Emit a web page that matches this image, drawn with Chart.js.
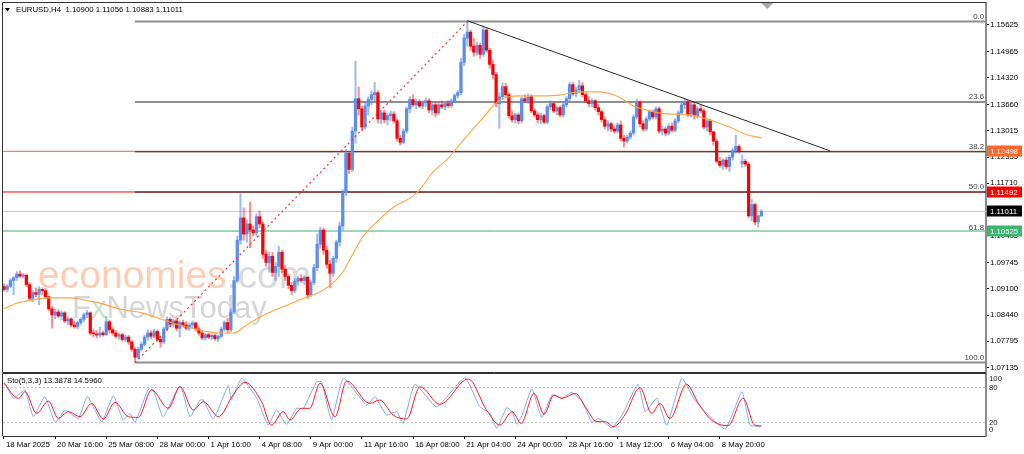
<!DOCTYPE html>
<html>
<head>
<meta charset="utf-8">
<script src="https://cdn.jsdelivr.net/npm/chart.js@4.4.1/dist/chart.umd.min.js"></script>
<style>
  html, body { margin: 0; padding: 0; background: #fff; }
  #wrap { position: relative; width: 1024px; height: 454px; overflow: hidden; }
  #main { position: absolute; left: 0; top: 0; }
  #sto { position: absolute; left: 0; top: 373px; }
</style>
</head>
<body>
<div id="wrap">
  <canvas id="main" width="1024" height="373"></canvas>
  <canvas id="sto" width="1024" height="81"></canvas>
</div>
<script>
/* ---------------- data (EURUSD H4) ---------------- */

const symbol = 'EURUSD,H4';

const opens = [
  1.0915,1.0908,1.0916,1.0930,1.0937,1.0946,1.0941,1.0943,1.0920,1.0886,
  1.0900,1.0896,1.0908,1.0905,1.0890,1.0860,1.0845,1.0852,1.0842,1.0850,
  1.0830,1.0835,1.0820,1.0816,1.0826,1.0834,1.0845,1.0850,1.0800,1.0798,
  1.0795,1.0800,1.0796,1.0828,1.0808,1.0800,1.0792,1.0796,1.0784,1.0790,
  1.0778,1.0760,1.0740,1.0760,1.0772,1.0790,1.0800,1.0792,1.0804,1.0784,
  1.0778,1.0810,1.0834,1.0822,1.0830,1.0812,1.0826,1.0820,1.0812,1.0820,
  1.0825,1.0810,1.0800,1.0788,1.0796,1.0790,1.0794,1.0786,1.0792,1.0810,
  1.0826,1.0808,1.0852,1.0930,1.1030,1.1085,1.1045,1.1070,1.1055,1.1048,
  1.1088,1.1070,1.0995,1.0975,1.0990,1.0950,1.0965,1.1000,1.0958,1.0940,
  1.0918,1.0905,1.0928,1.0935,1.0930,1.0938,1.0895,1.0925,1.0962,1.1020,
  1.1055,1.1005,1.0970,1.0948,1.0985,1.1025,1.1065,1.1148,1.1245,1.1205,
  1.1300,1.1380,1.1355,1.1310,1.1362,1.1378,1.1390,1.1395,1.1330,1.1345,
  1.1328,1.1338,1.1342,1.1325,1.1282,1.1272,1.1300,1.1355,1.1378,1.1365,
  1.1372,1.1362,1.1370,1.1375,1.1352,1.1365,1.1345,1.1365,1.1360,1.1368,
  1.1363,1.1375,1.1388,1.1395,1.1470,1.1530,1.1545,1.1510,1.1495,1.1512,
  1.1490,1.1550,1.1500,1.1465,1.1440,1.1368,1.1385,1.1410,1.1390,1.1338,
  1.1328,1.1340,1.1325,1.1380,1.1375,1.1385,1.1350,1.1340,1.1328,1.1338,
  1.1322,1.1360,1.1368,1.1350,1.1358,1.1340,1.1365,1.1380,1.1415,1.1392,
  1.1402,1.1412,1.1390,1.1375,1.1368,1.1375,1.1358,1.1348,1.1328,1.1312,
  1.1318,1.1305,1.1300,1.1315,1.1282,1.1275,1.1285,1.1295,1.1335,1.1372,
  1.1318,1.1305,1.1330,1.1348,1.1335,1.1355,1.1300,1.1305,1.1295,1.1312,
  1.1302,1.1325,1.1345,1.1365,1.1372,1.1340,1.1365,1.1338,1.1355,1.1350,
  1.1310,1.1325,1.1298,1.1275,1.1225,1.1215,1.1228,1.1212,1.1235,1.1252,
  1.1262,1.1220,1.1225,1.1218,1.1090,1.1118,1.1075,1.10900
];
const highs = [
  1.0922,1.0920,1.0935,1.0940,1.0952,1.0954,1.0948,1.0946,1.0925,1.0905,
  1.0912,1.0915,1.0912,1.0910,1.0893,1.0866,1.0860,1.0858,1.0855,1.0853,
  1.0840,1.0838,1.0828,1.0830,1.0838,1.0850,1.0856,1.0852,1.0808,1.0806,
  1.0815,1.0805,1.0842,1.0832,1.0815,1.0806,1.0800,1.0800,1.0795,1.0794,
  1.0782,1.0764,1.0765,1.0778,1.0795,1.0808,1.0806,1.0810,1.0808,1.0790,
  1.0815,1.0840,1.0838,1.0835,1.0836,1.0830,1.0832,1.0828,1.0825,1.0830,
  1.0828,1.0815,1.0806,1.0800,1.0800,1.0798,1.0798,1.0795,1.0815,1.0830,
  1.0836,1.0860,1.0940,1.1040,1.1145,1.1110,1.1080,1.1124,1.1065,1.1095,
  1.1102,1.1075,1.1005,1.1000,1.1000,1.0975,1.1015,1.1005,1.0968,1.0945,
  1.0925,1.0935,1.0940,1.0945,1.0942,1.0940,1.0930,1.0970,1.1045,1.1062,
  1.1060,1.1015,1.0980,1.0990,1.1030,1.1075,1.1155,1.1255,1.1250,1.1310,
  1.1473,1.1409,1.1362,1.1370,1.1385,1.1400,1.1421,1.1400,1.1350,1.1352,
  1.1345,1.1350,1.1348,1.1330,1.1290,1.1305,1.1360,1.1385,1.1390,1.1380,
  1.1378,1.1375,1.1382,1.1380,1.1372,1.1370,1.1370,1.1375,1.1372,1.1375,
  1.1380,1.1392,1.1400,1.1480,1.1540,1.1573,1.1550,1.1530,1.1520,1.1518,
  1.1560,1.1555,1.1505,1.1475,1.1445,1.1395,1.1420,1.1418,1.1395,1.1350,
  1.1345,1.1345,1.1385,1.1390,1.1392,1.1390,1.1355,1.1348,1.1345,1.1342,
  1.1365,1.1375,1.1372,1.1362,1.1362,1.1370,1.1385,1.1421,1.1420,1.1408,
  1.1425,1.1420,1.1395,1.1385,1.1380,1.1378,1.1365,1.1352,1.1335,1.1325,
  1.1322,1.1312,1.1320,1.1325,1.1290,1.1290,1.1300,1.1340,1.1378,1.1375,
  1.1325,1.1335,1.1352,1.1352,1.1360,1.1360,1.1312,1.1310,1.1318,1.1320,
  1.1330,1.1350,1.1370,1.1378,1.1377,1.1370,1.1372,1.1360,1.1365,1.1355,
  1.1330,1.1330,1.1300,1.1280,1.1235,1.1232,1.1235,1.1240,1.1258,1.1290,
  1.1266,1.1241,1.1230,1.1222,1.1130,1.1122,1.1092,1.11056
];
const lows = [
  1.0904,1.0902,1.0912,1.0895,1.0930,1.0938,1.0936,1.0915,1.0880,1.0878,
  1.0890,1.0870,1.0895,1.0885,1.0855,1.0812,1.0835,1.0838,1.0832,1.0825,
  1.0820,1.0815,1.0812,1.0810,1.0820,1.0828,1.0838,1.0795,1.0790,1.0788,
  1.0790,1.0792,1.0794,1.0800,1.0795,1.0788,1.0785,1.0780,1.0778,1.0772,
  1.0755,1.0728,1.0736,1.0755,1.0768,1.0782,1.0786,1.0788,1.0780,1.0765,
  1.0774,1.0805,1.0815,1.0815,1.0805,1.0790,1.0815,1.0808,1.0806,1.0812,
  1.0805,1.0795,1.0783,1.0782,1.0785,1.0784,1.0782,1.0779,1.0788,1.0805,
  1.0800,1.0804,1.0848,1.0925,1.1020,1.1030,1.1025,1.1011,1.1040,1.1040,
  1.1060,1.0985,1.0965,1.0950,1.0940,1.0930,1.0940,1.0950,1.0930,1.0910,
  1.0895,1.0900,1.0918,1.0925,1.0920,1.0885,1.0890,1.0920,1.0955,1.1010,
  1.0995,1.0960,1.0912,1.0940,1.0975,1.1015,1.1055,1.1140,1.1195,1.1200,
  1.1270,1.1340,1.1300,1.1305,1.1340,1.1365,1.1375,1.1320,1.1318,1.1320,
  1.1315,1.1325,1.1320,1.1275,1.1265,1.1268,1.1295,1.1345,1.1360,1.1355,
  1.1358,1.1355,1.1360,1.1345,1.1340,1.1335,1.1340,1.1355,1.1352,1.1358,
  1.1358,1.1370,1.1382,1.1390,1.1462,1.1510,1.1500,1.1485,1.1488,1.1480,
  1.1485,1.1495,1.1455,1.1430,1.1360,1.1307,1.1378,1.1385,1.1332,1.1322,
  1.1320,1.1318,1.1320,1.1370,1.1368,1.1345,1.1335,1.1320,1.1318,1.1318,
  1.1318,1.1352,1.1345,1.1340,1.1335,1.1335,1.1360,1.1375,1.1388,1.1385,
  1.1395,1.1385,1.1370,1.1360,1.1360,1.1352,1.1340,1.1322,1.1305,1.1300,
  1.1298,1.1295,1.1296,1.1275,1.1260,1.1270,1.1280,1.1290,1.1330,1.1310,
  1.1300,1.1300,1.1325,1.1330,1.1330,1.1295,1.1290,1.1288,1.1290,1.1298,
  1.1298,1.1320,1.1340,1.1355,1.1335,1.1335,1.1330,1.1332,1.1345,1.1305,
  1.1300,1.1290,1.1265,1.1220,1.1210,1.1205,1.1206,1.1200,1.1228,1.1245,
  1.1245,1.1210,1.1212,1.1085,1.1078,1.1068,1.1062,1.10883
];
const closes = [
  1.0908,1.0916,1.0930,1.0937,1.0946,1.0941,1.0943,1.0920,1.0886,1.0900,
  1.0896,1.0908,1.0905,1.0890,1.0860,1.0845,1.0852,1.0842,1.0850,1.0830,
  1.0835,1.0820,1.0816,1.0826,1.0834,1.0845,1.0850,1.0800,1.0798,1.0795,
  1.0800,1.0796,1.0828,1.0808,1.0800,1.0792,1.0796,1.0784,1.0790,1.0778,
  1.0760,1.0740,1.0760,1.0772,1.0790,1.0800,1.0792,1.0804,1.0784,1.0778,
  1.0810,1.0834,1.0822,1.0830,1.0812,1.0826,1.0820,1.0812,1.0820,1.0825,
  1.0810,1.0800,1.0788,1.0796,1.0790,1.0794,1.0786,1.0792,1.0810,1.0826,
  1.0808,1.0852,1.0930,1.1030,1.1085,1.1045,1.1070,1.1055,1.1048,1.1088,
  1.1070,1.0995,1.0975,1.0990,1.0950,1.0965,1.1000,1.0958,1.0940,1.0918,
  1.0905,1.0928,1.0935,1.0930,1.0938,1.0895,1.0925,1.0962,1.1020,1.1055,
  1.1005,1.0970,1.0948,1.0985,1.1025,1.1065,1.1148,1.1245,1.1205,1.1300,
  1.1380,1.1355,1.1310,1.1362,1.1378,1.1390,1.1395,1.1330,1.1345,1.1328,
  1.1338,1.1342,1.1325,1.1282,1.1272,1.1300,1.1355,1.1378,1.1365,1.1372,
  1.1362,1.1370,1.1375,1.1352,1.1365,1.1345,1.1365,1.1360,1.1368,1.1363,
  1.1375,1.1388,1.1395,1.1470,1.1530,1.1545,1.1510,1.1495,1.1512,1.1490,
  1.1550,1.1500,1.1465,1.1440,1.1368,1.1385,1.1410,1.1390,1.1338,1.1328,
  1.1340,1.1325,1.1380,1.1375,1.1385,1.1350,1.1340,1.1328,1.1338,1.1322,
  1.1360,1.1368,1.1350,1.1358,1.1340,1.1365,1.1380,1.1415,1.1392,1.1402,
  1.1412,1.1390,1.1375,1.1368,1.1375,1.1358,1.1348,1.1328,1.1312,1.1318,
  1.1305,1.1300,1.1315,1.1282,1.1275,1.1285,1.1295,1.1335,1.1372,1.1318,
  1.1305,1.1330,1.1348,1.1335,1.1355,1.1300,1.1305,1.1295,1.1312,1.1302,
  1.1325,1.1345,1.1365,1.1372,1.1340,1.1365,1.1338,1.1355,1.1350,1.1310,
  1.1325,1.1298,1.1275,1.1225,1.1215,1.1228,1.1212,1.1235,1.1252,1.1262,
  1.1250,1.1225,1.1218,1.1090,1.1118,1.1075,1.1090,1.11011
];

// moving average (orange), sampled along the curve: bar index -> price
const maBars = [0,4,9,14,21,25,30,36,43,49,54,59,64,69,72,75,79,90,94,99,103,106,109,112,118,122,127,130,134,139,143,147,150,153,156,161,168,174,180,186,191,194,197,201,205,209,215,219,223,228,232,237];
const maValues = [1.0860,1.0874,1.0882,1.0887,1.0887,1.0882,1.0874,1.0860,1.0850,1.0835,1.0822,1.0812,1.0803,1.0800,1.0800,1.0815,1.0835,1.0874,1.0887,1.0902,1.0924,1.0951,1.0993,1.1035,1.1085,1.1112,1.1134,1.1154,1.1196,1.1233,1.1270,1.1307,1.1333,1.1362,1.1380,1.1387,1.1387,1.1389,1.1397,1.1397,1.1389,1.1377,1.1362,1.1352,1.1345,1.1342,1.1340,1.1332,1.1322,1.1307,1.1292,1.1283];

// Stochastic(5,3,3): main line (blue) and signal (red), turning points
const kBars = [0,3,5,6.6,9.2,12.8,16,19.1,20.1,23.3,26.1,30.6,34.2,37.3,39.4,41,45.2,46.7,49.8,55.1,58.2,61.3,62.4,65.5,70.2,71.2,74.4,79.1,82.7,85.3,88.4,91.6,93.7,97.8,99.4,102.5,106.2,113.5,116.1,119.7,122.9,124.9,128.6,135.4,144.2,148.9,152.1,154.2,157.3,159,160.5,162.1,165.2,168.3,171.5,174.6,177.7,180.9,184,186.1,190.2,193.4,198.4,200.7,204.3,207.4,212.1,215.8,218.9,225.7,230.9,233.5,237];
const kValues = [90,61.7,70,76,30.3,64.6,20.6,41.7,38.9,27.4,64.6,21.7,66,24.6,36,20.6,77.7,76,30.3,83.4,30.3,58.8,58.8,26.3,83.4,58.8,96,61.7,16,41.7,17.2,44.6,44.6,90,90,24.6,96,50,64.6,33,38.9,18.9,85.7,47.4,97,47.4,36,10.3,45.7,38.9,17.2,33,77.7,28.6,67.4,61.7,72,56,20.6,27.4,11.5,33,85.7,38.9,61.7,16,96,61.7,41.7,9.2,73,16,13.3878];
const dBars = [0,4.5,6.6,10.2,13.9,17,20.1,23.8,27.4,31.1,34.7,38.9,42,46.2,51.4,55.1,59.2,62.4,67.1,71.8,75.4,80.6,83.7,87.4,89.5,93.1,95.7,98.9,103.6,107.2,114.5,117.6,121.8,126,130.2,136.4,145.3,151,155.2,159,161.8,165.9,169,172.1,174.6,178.8,181.9,185.5,188.2,190.7,194.4,199,202.7,205.3,208.4,213.6,217.3,221.4,226.6,231.3,234.9,237];
const dValues = [87.4,61.7,73,36,57,27.4,38.9,30.3,53,26.3,54.8,30.3,29,76,44.6,81.7,41.7,56,30.3,68.5,89.1,56,16,38.9,24.6,44.6,44.6,87.4,30.3,91.4,53,58.8,33,26.3,81.7,51.4,94.8,41.7,16,38.9,18.9,70,34.3,67.4,61.7,70,47.4,21.7,21.7,13.2,34.3,80,36,53,27.4,85.7,53,24.6,14.9,61.7,16,14.596];

// time axis
const timeTickBars = [0,16,32,48,64,80,96,112,128,144,160,176,192,208,224];
const timeTickLabels = ['18 Mar 2025','20 Mar 16:00','25 Mar 08:00','28 Mar 00:00','1 Apr 16:00','4 Apr 08:00','9 Apr 00:00','11 Apr 16:00','16 Apr 08:00','21 Apr 04:00','24 Apr 00:00','28 Apr 16:00','1 May 12:00','6 May 04:00','8 May 20:00'];

// price axis
const priceTicks = [1.15625,1.14965,1.14320,1.13660,1.13015,1.12355,1.11710,1.11065,1.10405,1.09745,1.09100,1.08440,1.07795,1.07135];

// fibonacci retracement (low bar -> high bar)
const fibLevels = [0, 23.6, 38.2, 50, 61.8, 100];
const fibLabels = ['0.0', '23.6', '38.2', '50.0', '61.8', '100.0'];
const fibHigh = 1.1571, fibLow = 1.0727;
const fibLowBar = 41, fibHighBar = 145;

// trend line from the top
const trendBars = [145, 258.5];
const trendPrices = [1.1573, 1.1251];

// horizontal price lines with their axis labels
const levelPrices = [1.12498, 1.11492, 1.11011, 1.10525];

// stochastic levels
const stochLevels = [100, 80, 20, 0];
const stochDotted = [80, 20];

/* ---------------- styling ---------------- */

const FONT = '"Liberation Sans", Arial, sans-serif';
Chart.defaults.font.family = FONT;
Chart.defaults.font.size = 7.8;
Chart.defaults.color = '#000';
Chart.defaults.animation = false;

const X_MIN = -0.31, X_MAX = 307.3;
const BULL = 'rgb(92,142,236)', BEAR = 'rgb(255,0,0)';
const BULL_PALE = 'rgba(92,142,236,0.6)', BEAR_PALE = 'rgba(255,30,30,0.5)';

// 61.8 is covered by the green price line, so its own line is left out
const fibColors = ['#8e8e8e', '#8e8e8e', '#1e1e1e', '#1e1e1e', 'rgba(0,0,0,0)', '#8e8e8e'];
const fibWidths = [2, 2, 1, 1, 1, 2];
const levelColors = ['rgb(255,100,40)', 'rgb(255,0,0)', '#c8c8c8', 'rgb(60,179,113)'];
const boxColors = ['rgb(255,100,40)', 'rgb(255,0,0)', '#000000', 'rgb(60,179,113)'];

const up = i => closes[i] >= opens[i];
const fibPrice = lv => fibHigh - (fibHigh - fibLow) * lv / 100;

function hLine(x0, price, color, width, order, dash) {
  return {
    type: 'line', data: [{x: x0, y: price}, {x: X_MAX, y: price}],
    borderColor: color, borderWidth: width, borderDash: dash || [],
    pointRadius: 0, fill: false, tension: 0, order: order
  };
}

// keep the axis labels from pushing the plot area in
function noLabelPadding(s) {
  s.paddingTop = 0;
  s.paddingBottom = 0;
}

/* ---------------- main chart ---------------- */

const wicks = opens.map((o, i) => ({x: i, y: [lows[i], highs[i]]}));
const bodies = opens.map((o, i) => ({x: i, y: [o, closes[i]]}));

const mainDecor = {
  id: 'mainDecor',
  beforeDatasetsDraw(chart) {
    const ctx = chart.ctx;
    ctx.save();
    ctx.textBaseline = 'alphabetic';
    ctx.font = '39px ' + FONT;
    ctx.fillStyle = 'rgba(252,190,155,0.75)';
    ctx.fillText('economies', 38, 288);
    const w = ctx.measureText('economies').width;
    ctx.fillStyle = 'rgba(205,205,205,0.75)';
    ctx.fillText('.com', 38 + w, 288);
    ctx.font = '31px ' + FONT;
    ctx.fillStyle = 'rgba(200,200,200,0.75)';
    ctx.fillText('F', 72, 318);
    const fw = ctx.measureText('F').width;
    ctx.fillStyle = 'rgba(190,220,190,0.8)';
    ctx.fillText('x', 72 + fw, 318);
    const xw = ctx.measureText('x').width;
    ctx.fillStyle = 'rgba(200,200,200,0.75)';
    ctx.fillText('NewsToday', 72 + fw + xw, 318);
    ctx.restore();
  },
  afterDraw(chart) {
    const {ctx, chartArea: a, scales} = chart;
    const y = scales.y, x = scales.x;
    ctx.save();
    // frame
    ctx.strokeStyle = '#333';
    ctx.lineWidth = 1;
    ctx.beginPath();
    ctx.moveTo(a.left - 0.5, a.bottom + 0.5);
    ctx.lineTo(a.left - 0.5, a.top - 0.5);
    ctx.lineTo(a.right, a.top - 0.5);
    ctx.moveTo(a.left - 0.5, a.bottom + 0.5);
    ctx.lineTo(a.right, a.bottom + 0.5);
    ctx.stroke();

    // fib level texts
    ctx.font = '7.8px ' + FONT;
    ctx.fillStyle = '#404040';
    ctx.textAlign = 'right';
    ctx.textBaseline = 'bottom';
    fibLevels.forEach((lv, k) => {
      ctx.fillText(fibLabels[k], a.right - 2, y.getPixelForValue(fibPrice(lv)) - 1);
    });

    // price boxes on the axis
    ctx.textAlign = 'left';
    ctx.textBaseline = 'middle';
    levelPrices.forEach((p, k) => {
      const py = Math.round(y.getPixelForValue(p));
      ctx.fillStyle = boxColors[k];
      ctx.fillRect(a.right + 1, py - 5.5, chart.width - a.right - 3, 11);
      ctx.fillStyle = '#fff';
      ctx.fillText(p.toFixed(5), a.right + 4, py + 0.5);
    });

    // title
    const last = closes.length - 1;
    ctx.fillStyle = '#000';
    ctx.beginPath();
    ctx.moveTo(5, 8); ctx.lineTo(10, 8); ctx.lineTo(7.5, 11.5); ctx.closePath();
    ctx.fill();
    ctx.fillText(symbol + '  ' + [opens[last], highs[last], lows[last], closes[last]].map(v => v.toFixed(5)).join(' '), 16, 10);

    // chart shift marker
    const sx = x.getPixelForValue(last) + 6;
    ctx.fillStyle = '#a8a8a8';
    ctx.beginPath();
    ctx.moveTo(sx - 6, a.top); ctx.lineTo(sx + 6, a.top); ctx.lineTo(sx, a.top + 6); ctx.closePath();
    ctx.fill();
    ctx.restore();
  }
};

new Chart(document.getElementById('main'), {
  type: 'bar',
  data: {
    datasets: [
      {type: 'line', data: maBars.map((b, k) => ({x: b, y: maValues[k]})), borderColor: 'rgb(255,165,65)', borderWidth: 1.1,
       pointRadius: 0, cubicInterpolationMode: 'monotone', fill: false, order: 0},
      {type: 'line', data: trendBars.map((b, k) => ({x: b, y: trendPrices[k]})), borderColor: '#2a2a2a', borderWidth: 1,
       pointRadius: 0, fill: false, order: 0},
      {type: 'line', data: [{x: fibLowBar, y: fibLow}, {x: fibHighBar, y: fibHigh}], borderColor: 'rgb(235,55,55)', borderWidth: 1.2,
       borderDash: [2, 3], pointRadius: 0, fill: false, order: 0},
      {type: 'bar', data: bodies, backgroundColor: opens.map((o, i) => up(i) ? BULL : BEAR),
       barThickness: 2.6, minBarLength: 1, grouped: false, borderWidth: 0, order: 1},
      {type: 'bar', data: wicks, backgroundColor: opens.map((o, i) => up(i) ? BULL_PALE : BEAR_PALE),
       barThickness: 1.4, grouped: false, borderWidth: 0, order: 2},
      ...fibLevels.map((lv, k) => hLine(fibLowBar, fibPrice(lv), fibColors[k], fibWidths[k], 3)),
      ...levelPrices.map((p, k) => hLine(X_MIN, p, levelColors[k], 1, 4))
    ]
  },
  options: {
    responsive: false,
    devicePixelRatio: 1,
    layout: {padding: {left: 3, top: 3, right: 0, bottom: 1}},
    plugins: {legend: {display: false}, tooltip: {enabled: false}},
    scales: {
      x: {type: 'linear', min: X_MIN, max: X_MAX, offset: false, display: false, grid: {offset: false}},
      y: {
        type: 'linear', position: 'right', min: 1.070358, max: 1.161695,
        afterBuildTicks: s => { s.ticks = priceTicks.map(v => ({value: v})); },
        afterFit: s => { s.width = 38; noLabelPadding(s); },
        ticks: {padding: 1, font: {size: 7.8}, color: '#000', callback: v => v.toFixed(5)},
        grid: {drawOnChartArea: false, drawTicks: true, tickLength: 3, tickColor: '#000'},
        border: {display: true, color: '#8c8c8c', width: 2}
      }
    }
  },
  plugins: [mainDecor]
});

/* ---------------- stochastic sub-window ---------------- */

const stoDecor = {
  id: 'stoDecor',
  afterDraw(chart) {
    const {ctx, chartArea: a, scales} = chart;
    const y = scales.y;
    ctx.save();
    ctx.strokeStyle = '#333';
    ctx.lineWidth = 1;
    ctx.beginPath();
    ctx.moveTo(a.left - 0.5, a.bottom);
    ctx.lineTo(a.left - 0.5, a.top - 0.5);
    ctx.lineTo(a.right, a.top - 0.5);
    ctx.stroke();

    ctx.font = '7.8px ' + FONT;
    ctx.fillStyle = '#222';
    ctx.textAlign = 'left';
    ctx.textBaseline = 'middle';
    stochLevels.forEach(v => {
      let py = y.getPixelForValue(v);
      py = Math.min(Math.max(py, a.top + 5), a.bottom - 6);
      ctx.fillText(String(v), a.right + 3, py);
    });

    ctx.fillStyle = '#000';
    ctx.fillText('Sto(5,3,3) ' + kValues[kValues.length - 1].toFixed(4) + ' ' + dValues[dValues.length - 1].toFixed(4), a.left + 4, a.top + 7);
    ctx.restore();
  }
};

new Chart(document.getElementById('sto'), {
  type: 'line',
  data: {
    datasets: [
      {data: dBars.map((b, k) => ({x: b, y: dValues[k]})), borderColor: 'rgb(255,25,25)', borderWidth: 1,
       pointRadius: 0, cubicInterpolationMode: 'monotone', fill: false, order: 0},
      {data: kBars.map((b, k) => ({x: b, y: kValues[k]})), borderColor: 'rgb(130,168,240)', borderWidth: 1,
       pointRadius: 0, tension: 0.15, fill: false, order: 1},
      ...stochDotted.map(v => hLine(X_MIN, v, '#bdbdbd', 1, 2, [2, 2]))
    ]
  },
  options: {
    responsive: false,
    devicePixelRatio: 1,
    layout: {padding: {left: 3, top: 1, right: 0, bottom: 0}},
    plugins: {legend: {display: false}, tooltip: {enabled: false}},
    scales: {
      x: {
        type: 'linear', min: X_MIN, max: X_MAX, offset: false,
        afterBuildTicks: s => { s.ticks = timeTickBars.map(v => ({value: v})); },
        afterFit: s => { s.height = 18; },
        ticks: {align: 'start', autoSkip: false, maxRotation: 0, padding: 1, labelOffset: 2, font: {size: 7.8}, color: '#000',
                callback: (v, i) => timeTickLabels[i]},
        grid: {drawOnChartArea: false, drawTicks: true, tickLength: 3, tickColor: '#000'},
        border: {display: true, color: '#333', width: 1}
      },
      y: {
        type: 'linear', position: 'right', min: -2.8, max: 103.4,
        afterFit: s => { s.width = 38; noLabelPadding(s); },
        ticks: {display: false},
        grid: {display: false},
        border: {display: true, color: '#8c8c8c', width: 2}
      }
    }
  },
  plugins: [stoDecor]
});
</script>
</body>
</html>
